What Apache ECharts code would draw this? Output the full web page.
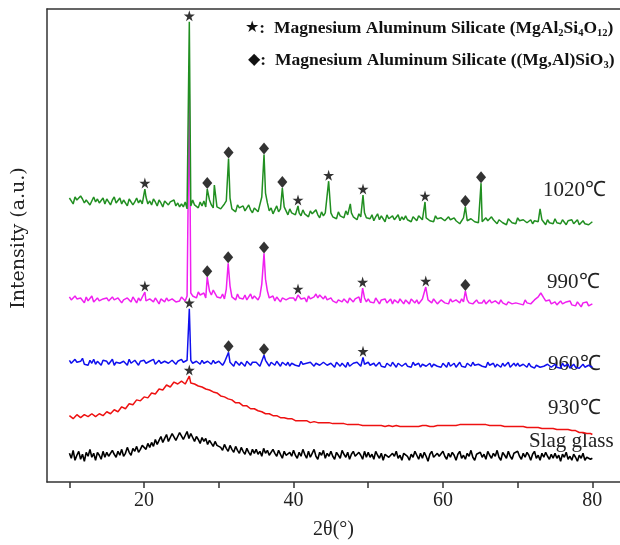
<!DOCTYPE html>
<html>
<head>
<meta charset="utf-8">
<script src="https://cdn.jsdelivr.net/npm/echarts@6/dist/echarts.min.js"></script>
<style>html,body{margin:0;padding:0;background:#fff;}#c{width:620px;height:545px;}</style>
</head>
<body>
<div id="c"></div>
<script>
// baseline samples: start 10°, step 0.25° (281 samples to 80°)
const X_START = 10, X_STEP = 0.25;
const xTicks = [10, 20, 30, 40, 50, 60, 70, 80];
const xTickLabels = [20, 40, 60, 80];
const seriesNames = ['Slag glass', '930℃', '960℃', '990℃', '1020℃'];

// Intensity (arbitrary units, stacked offsets)
const green1020Base = [
 287,284,281,288,285,283,289,286,282,285,287,280,284,288,283,286,282,284,287,281,
 286,283,280,285,288,282,284,287,281,285,283,279,286,284,280,283,287,282,285,281,
 285,288,281,284,280,286,283,279,285,282,278,284,286,280,283,281,285,279,282,278,
 281,278,283,276,282,279,285,280,281,277,283,279,284,278,282,285,280,277,283,278,
 279,276,274,281,284,275,287,276,278,273,280,277,275,279,274,277,280,275,272,277,
 277,273,275,288,272,292,282,274,277,271,275,279,273,276,272,278,274,270,276,272,
 274,270,276,272,269,275,271,273,268,274,271,269,275,270,267,273,269,272,274,268,
 272,268,270,266,273,269,271,267,274,270,266,272,268,270,265,271,268,266,272,267,
 269,266,270,264,268,271,265,269,267,263,270,266,264,269,265,267,270,264,268,265,
 269,265,267,263,268,266,264,269,270,265,262,267,268,264,266,263,269,266,264,267,
 267,264,262,268,265,263,267,264,266,261,263,267,268,264,262,266,267,263,265,262,
 266,263,261,267,264,262,268,265,263,261,265,267,262,264,260,266,267,262,264,261,
 267,264,262,265,266,262,263,265,261,264,266,263,262,265,264,260,265,262,263,261,
 266,262,264,261,265,263,260,264,262,265,261,263,265,260,262,264,261,263,260,262,
 263];
const green1020Peaks = [[20.1,296],[26.05,465],[28.45,296],[29.4,300],[31.3,327],[36.05,331],[38.5,297],[40.6,279],[44.7,304],[47.6,281],[49.3,290],[57.6,283],[63.0,278],[65.1,302],[73.0,276]];
const green1020Stars = [20.1, 26.05, 40.6, 44.7, 49.3, 57.6];
const green1020Diamonds = [28.45, 31.3, 36.05, 38.5, 63.0, 65.1];

const magenta990Base = [
 187,184,182,188,185,183,186,184,181,187,183,185,188,182,184,186,183,181,185,184,
 186,183,181,187,184,182,186,185,181,184,183,186,185,182,187,184,181,186,183,182,
 186,183,181,185,184,182,186,183,180,185,184,182,186,183,181,185,187,182,184,183,
 187,185,183,188,186,191,188,190,186,192,189,187,191,186,190,193,189,194,190,187,
 189,186,190,185,195,199,198,187,189,184,190,186,188,185,189,184,187,190,185,188,
 187,184,188,200,205,205,193,186,184,188,183,187,185,182,186,188,184,183,186,184,
 186,183,181,187,185,183,186,182,188,185,184,187,190,186,189,191,185,188,184,186,
 186,183,185,181,184,186,182,185,183,181,186,184,182,185,183,187,181,184,186,182,
 185,182,184,181,186,183,180,184,182,185,181,183,185,180,184,182,181,185,183,180,
 184,182,180,185,183,181,184,180,182,185,183,180,184,182,181,185,183,180,182,184,
 184,181,183,180,185,182,180,184,183,181,185,182,180,184,181,183,180,182,184,181,
 183,181,184,180,182,184,181,179,183,182,180,184,181,183,179,182,184,180,182,181,
 183,180,182,179,184,181,183,180,182,184,185,187,186,189,186,183,181,184,180,182,
 182,179,181,183,180,178,182,180,183,179,181,178,182,180,177,181,179,182,178,180,
 180];
const magenta990Peaks = [[20.1,192],[26.05,392],[28.45,207],[29.5,196],[31.25,221],[36.05,231],[40.6,189],[49.25,196],[57.7,197],[63.0,193],[73.1,191]];
const magenta990Stars = [20.1, 40.6, 49.25, 57.7];
const magenta990Diamonds = [28.45, 31.25, 36.05, 63.0];

const blue960Base = [
 123,120,118,124,121,119,122,125,119,121,118,123,120,124,119,122,120,118,123,121,
 122,119,121,124,118,121,123,120,119,122,121,118,124,120,119,123,121,118,122,120,
 123,120,118,122,121,124,119,121,123,120,118,122,124,120,119,123,121,119,122,121,
 124,121,119,123,125,123,120,118,122,121,119,123,120,118,122,121,119,123,120,118,
 122,120,118,121,123,126,121,119,117,122,120,118,121,119,117,122,120,118,121,119,
 121,119,117,122,118,123,120,117,121,119,118,122,120,117,121,119,118,121,117,120,
 121,118,120,117,122,119,117,120,118,121,119,117,120,122,118,117,121,119,118,120,
 120,118,116,121,119,117,120,118,116,121,117,119,120,118,121,119,117,122,119,117,
 121,118,116,120,117,119,121,117,118,116,120,118,117,121,119,116,120,118,117,119,
 120,117,119,116,121,118,117,120,116,119,121,117,118,120,116,119,120,117,118,116,
 120,118,116,121,117,119,120,116,118,121,117,119,116,120,118,117,121,118,116,119,
 120,117,119,116,121,118,117,120,116,119,118,116,120,117,119,121,116,118,120,117,
 120,117,116,119,118,116,120,117,119,115,118,120,116,118,117,115,119,120,116,118,
 119,116,118,115,120,117,116,119,115,117,119,116,118,115,117,119,116,115,118,116,
 116];
const blue960Peaks = [[26.05,175],[31.3,131],[36.05,128],[49.3,126]];
const blue960Stars = [26.05, 49.3];
const blue960Diamonds = [31.3, 36.05];

const red930Base = [
 67,65,64,66,68,66,65,67,68,66,66,68,69,67,66,68,69,67,67,69,
 71,70,69,71,73,72,71,73,76,75,74,76,79,78,78,80,83,81,82,84,
 86,85,85,87,90,88,89,91,94,92,93,95,98,96,96,98,101,99,99,101,
 102,100,99,101,102,100,98,99,99,97,95,96,96,94,92,93,93,91,89,90,
 89,87,85,86,86,84,82,83,82,80,79,80,79,77,76,77,76,74,73,74,
 73,72,70,71,71,69,68,69,69,67,66,67,67,65,64,65,66,64,63,64,
 64,62,61,62,63,62,61,62,62,60,60,61,62,60,59,60,61,60,59,60,
 61,59,58,59,60,59,58,59,59,58,57,58,59,58,57,58,59,57,56,57,
 59,57,56,57,58,57,56,57,58,56,56,57,57,56,56,57,58,56,55,56,
 58,56,55,56,58,56,55,56,58,57,56,57,58,56,55,56,58,57,56,57,
 58,57,56,57,59,57,56,57,59,58,57,58,59,58,57,58,60,58,57,58,
 59,58,57,58,59,57,56,57,58,57,56,57,58,56,55,56,57,56,55,56,
 57,56,55,56,56,55,54,55,56,55,54,55,55,54,53,54,55,54,53,54,
 55,53,52,53,54,53,52,53,53,52,51,52,52,50,49,50,51,49,48,49,
 48];
const red930Peaks = [[26.05,107]];
const red930Stars = [26.05];
const red930Diamonds = [];

const slagBase = [
 29,24,32,22,27,31,23,28,21,30,26,33,25,29,22,30,27,23,31,25,
 30,26,24,32,28,25,31,27,33,26,29,35,30,27,34,31,36,30,33,37,
 37,33,39,35,40,36,43,38,42,46,40,44,48,41,45,49,47,42,46,50,
 48,43,47,51,44,49,45,41,46,43,39,45,41,44,38,42,40,36,41,37,
 39,35,32,38,34,31,37,33,30,36,32,29,35,31,28,34,30,27,33,29,
 33,28,31,26,34,29,32,27,25,33,29,26,32,28,24,31,27,25,30,26,
 32,27,24,30,26,33,28,24,31,25,29,33,26,23,30,27,32,24,29,26,
 31,26,23,30,27,24,32,28,25,30,23,28,31,26,24,30,27,23,31,25,
 30,25,28,23,31,27,24,29,22,28,30,25,23,29,26,31,24,27,22,29,
 30,26,22,28,25,31,27,23,29,24,30,26,21,28,31,25,23,29,26,24,
 31,26,23,29,25,30,27,22,28,31,24,27,23,29,26,32,25,22,28,30,
 30,25,28,23,31,27,24,29,26,32,25,22,30,27,24,31,26,23,29,27,
 31,26,23,29,25,30,27,22,28,31,24,27,22,29,25,30,26,23,28,24,
 29,24,27,21,28,25,30,23,26,22,28,25,21,27,24,29,22,25,27,23,
 24];
const slagPeaks = [];

function build(base, peaks) {
  const pts = [];
  base.forEach((v, i) => {
    const x = X_START + i * X_STEP;
    if (!peaks.some(p => Math.abs(p[0] - x) < 0.12)) pts.push([x, v]);
  });
  peaks.forEach(p => pts.push([p[0], p[1]]));
  pts.sort((a, b) => a[0] - b[0]);
  return pts;
}
function marks(peaks, xs) {
  return xs.map(x => peaks.find(p => p[0] === x)).filter(Boolean).map(p => [p[0], p[1]]);
}

const STAR = 'path://M50,0 L61,35 L98,35 L68,57 L79,91 L50,70 L21,91 L32,57 L2,35 L39,35 Z';
const traces = [
  {name: seriesNames[0], color: '#000000', width: 1.6, base: slagBase, peaks: slagPeaks, stars: [], dias: []},
  {name: seriesNames[1], color: '#ee1111', width: 1.5, base: red930Base, peaks: red930Peaks, stars: red930Stars, dias: red930Diamonds},
  {name: seriesNames[2], color: '#1010ee', width: 1.5, base: blue960Base, peaks: blue960Peaks, stars: blue960Stars, dias: blue960Diamonds},
  {name: seriesNames[3], color: '#f020f0', width: 1.5, base: magenta990Base, peaks: magenta990Peaks, stars: magenta990Stars, dias: magenta990Diamonds},
  {name: seriesNames[4], color: '#218f21', width: 1.5, base: green1020Base, peaks: green1020Peaks, stars: green1020Stars, dias: green1020Diamonds}
];

const series = [];
traces.forEach(t => {
  series.push({
    name: t.name, type: 'line', data: build(t.base, t.peaks), showSymbol: false,
    lineStyle: {color: t.color, width: t.width}, itemStyle: {color: t.color}, animation: false, z: 2
  });
});
traces.forEach(t => {
  if (t.stars.length) series.push({
    type: 'scatter', data: marks(t.peaks, t.stars), symbol: STAR, symbolSize: 11,
    symbolOffset: [0, -6], itemStyle: {color: '#000'}, animation: false, z: 5
  });
  if (t.dias.length) series.push({
    type: 'scatter', data: marks(t.peaks, t.dias), symbol: 'diamond', symbolSize: [10, 12],
    symbolOffset: [0, -6], itemStyle: {color: '#000'}, animation: false, z: 5
  });
});

const serif = 'Liberation Serif';
const labelStyle = {fontFamily: serif, fontSize: 21, fill: '#222'};
const subRich = {
  t: {fontFamily: serif, fontWeight: 'bold', fontSize: 17.5, fill: '#111', lineHeight: 22},
  s: {fontFamily: 'DejaVu Sans', fontSize: 16, fill: '#111', lineHeight: 22},
  b: {fontFamily: serif, fontWeight: 'bold', fontSize: 10.5, fill: '#111', verticalAlign: 'bottom', lineHeight: 22}
};

const axisColor = '#333';
const chart = echarts.init(document.getElementById('c'), null, {renderer: 'canvas'});
chart.setOption({
  backgroundColor: '#fff',
  animation: false,
  grid: {left: 47, top: 9, width: 581, height: 478, show: false},
  xAxis: [{
    type: 'value', min: 7, max: 83.7, position: 'bottom',
    name: '2θ(°)', nameLocation: 'middle', nameGap: 38,
    nameTextStyle: {fontFamily: serif, fontSize: 20, color: '#222'},
    axisLine: {show: true, lineStyle: {color: axisColor, width: 1.5}},
    axisTick: {show: true, inside: false, length: 6, customValues: xTicks, lineStyle: {color: axisColor, width: 1.5}},
    axisLabel: {show: true, customValues: xTickLabels, margin: 9, fontFamily: serif, fontSize: 20, color: '#222'},
    splitLine: {show: false}
  }, {
    type: 'value', min: 7, max: 83.7, position: 'top',
    axisLine: {show: true, onZero: false, lineStyle: {color: axisColor, width: 1.5}},
    axisTick: {show: false}, axisLabel: {show: false}, splitLine: {show: false}
  }],
  yAxis: {
    type: 'value', min: 0, max: 478,
    axisLine: {show: true, lineStyle: {color: axisColor, width: 1.5}},
    axisTick: {show: false}, axisLabel: {show: false}, splitLine: {show: false}
  },
  graphic: [
    {type: 'text', x: 19, y: 238, rotation: Math.PI / 2, style: {text: 'Intensity (a.u.)', fontFamily: 'DejaVu Serif', fontSize: 19, fill: '#222', align: 'center', verticalAlign: 'middle'}},
    {type: 'text', left: 543, top: 180, style: Object.assign({text: '1020℃'}, labelStyle)},
    {type: 'text', left: 547, top: 272, style: Object.assign({text: '990℃'}, labelStyle)},
    {type: 'text', left: 548, top: 354, style: Object.assign({text: '960℃'}, labelStyle)},
    {type: 'text', left: 548, top: 398, style: Object.assign({text: '930℃'}, labelStyle)},
    {type: 'text', left: 529, top: 431, style: Object.assign({text: 'Slag glass'}, labelStyle)},
    {type: 'text', left: 245, top: 19, style: {text: '{s|★}{t|:  Magnesium Aluminum Silicate (MgAl}{b|2}{t|Si}{b|4}{t|O}{b|12}{t|)}', rich: subRich}},
    {type: 'text', left: 248, top: 51, style: {text: '{s|◆}{t|:  Magnesium Aluminum Silicate ((Mg,Al)SiO}{b|3}{t|)}', rich: subRich}}
  ],
  series: series
});
</script>
</body>
</html>
